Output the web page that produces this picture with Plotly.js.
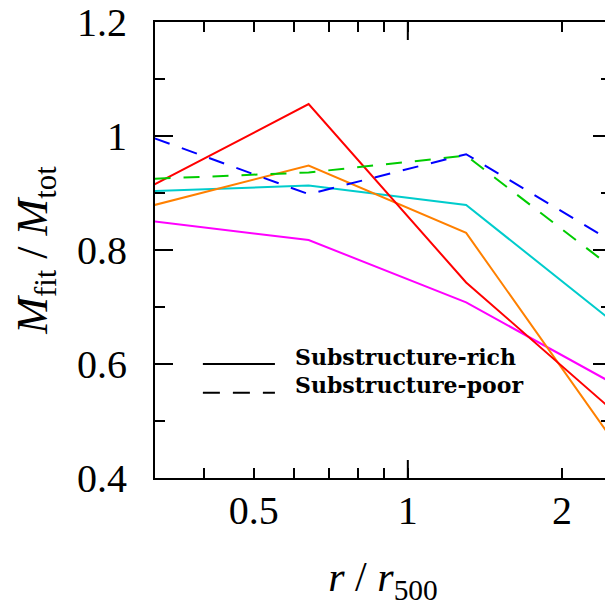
<!DOCTYPE html>
<html><head><meta charset="utf-8">
<script src="https://cdn.plot.ly/plotly-3.0.1.min.js"></script>
<style>html,body{margin:0;padding:0;overflow:hidden;background:#fff}</style>
</head><body><div id="chart" style="width:612px;height:612px"></div>
<script>
// radius in units of r500
const radius = [0.32, 0.64, 1.3, 2.6];
// Substructure-rich (solid)
const richRed     = [0.915, 1.056, 0.743, 0.507];
const richOrange  = [0.879, 0.948, 0.830, 0.448];
const richCyan    = [0.9035, 0.913, 0.879, 0.664];
const richMagenta = [0.850, 0.8175, 0.708, 0.559];
// Substructure-poor (dashed)
const poorBlue    = [0.996, 0.898, 0.968, 0.8065];
const poorGreen   = [0.925, 0.936, 0.9655, 0.758];

const xTickVals = [0.5, 1, 2];
const xTickText = ['0.5', '1', '2'];
const xMinorVals = [0.4, 0.6, 0.7, 0.8, 0.9];
const yTickVals = [0.4, 0.6, 0.8, 1.0, 1.2];
const yTickText = ['0.4', '0.6', '0.8', '1', '1.2'];
const legendLabels = ['Substructure-rich', 'Substructure-poor'];

const serif = '"Liberation Serif", "Times New Roman", serif';
const boldSerif = '"DejaVu Serif", serif';
const dashPat = '16px,13px';

function tr(y, color, dash) {
  return {x: radius, y: y, type: 'scatter', mode: 'lines',
          line: {color: color, width: 2, dash: dash || 'solid'}, hoverinfo: 'skip'};
}
const data = [
  tr(richMagenta, '#ff00ff'),
  tr(richCyan, '#00cccc'),
  tr(richOrange, '#ff8000'),
  tr(richRed, '#ff0000'),
  tr(poorGreen, '#00cc00', dashPat),
  tr(poorBlue, '#0000ff', dashPat)
];

const layout = {
  width: 612, height: 612,
  margin: {l: 155, r: 1, t: 22, b: 134},
  showlegend: false,
  paper_bgcolor: '#fff', plot_bgcolor: '#fff',
  xaxis: {
    type: 'log', range: [-0.494, 0.397],
    tickmode: 'array', tickvals: xTickVals, ticktext: xTickText,
    ticks: 'inside', ticklen: 10, tickwidth: 2, tickcolor: '#000',
    showline: true, linewidth: 2, linecolor: '#000', mirror: 'ticks',
    showgrid: false, zeroline: false,
    tickfont: {family: serif, size: 40, color: '#000'},
    ticklabelstandoff: -4,
    minor: {tickmode: 'array', tickvals: xMinorVals, ticks: 'inside', ticklen: 10,
            tickwidth: 2, tickcolor: '#000', showgrid: false},
    title: {text: '<i>r</i> / <i>r</i><sub>500</sub>', font: {family: serif, size: 42, color: '#000'}, standoff: 30}
  },
  yaxis: {
    range: [0.4, 1.2],
    tickmode: 'array', tickvals: yTickVals, ticktext: yTickText,
    ticks: 'inside', ticklen: 18, tickwidth: 2, tickcolor: '#000',
    showline: true, linewidth: 2, linecolor: '#000', mirror: 'ticks',
    showgrid: false, zeroline: false,
    tickfont: {family: serif, size: 40, color: '#000'},
    ticklabelstandoff: 18,
    minor: {dtick: 0.1, tick0: 0.4, ticks: 'inside', ticklen: 10, tickwidth: 2, tickcolor: '#000', showgrid: false},
    title: {text: '<i>M</i><sub>fit</sub> / <i>M</i><sub>tot</sub>', font: {family: serif, size: 44, color: '#000'}, standoff: 16}
  },
  shapes: [
    {type: 'line', xref: 'x', yref: 'paper', x0: 1, x1: 1, ysizemode: 'pixel', yanchor: 0, y0: 0, y1: 18, line: {color: '#000', width: 2}},
    {type: 'line', xref: 'x', yref: 'paper', x0: 1, x1: 1, ysizemode: 'pixel', yanchor: 1, y0: 0, y1: -18, line: {color: '#000', width: 2}},
    {type: 'line', xref: 'paper', yref: 'paper', x0: 0.105, x1: 0.263, y0: 0.25, y1: 0.25, line: {color: '#000', width: 2}},
    {type: 'line', xref: 'paper', yref: 'paper', x0: 0.105, x1: 0.263, y0: 0.187, y1: 0.187, line: {color: '#000', width: 2, dash: '17px,13px'}}
  ],
  annotations: [
    {xref: 'paper', yref: 'paper', x: 0.302, y: 0.266, xanchor: 'left', yanchor: 'middle', showarrow: false,
     text: '<b>' + legendLabels[0] + '</b>', font: {family: boldSerif, size: 22, color: '#000'}},
    {xref: 'paper', yref: 'paper', x: 0.302, y: 0.203, xanchor: 'left', yanchor: 'middle', showarrow: false,
     text: '<b>' + legendLabels[1] + '</b>', font: {family: boldSerif, size: 22, color: '#000'}}
  ]
};
Plotly.newPlot('chart', data, layout, {staticPlot: true, displayModeBar: false});
</script></body></html>
